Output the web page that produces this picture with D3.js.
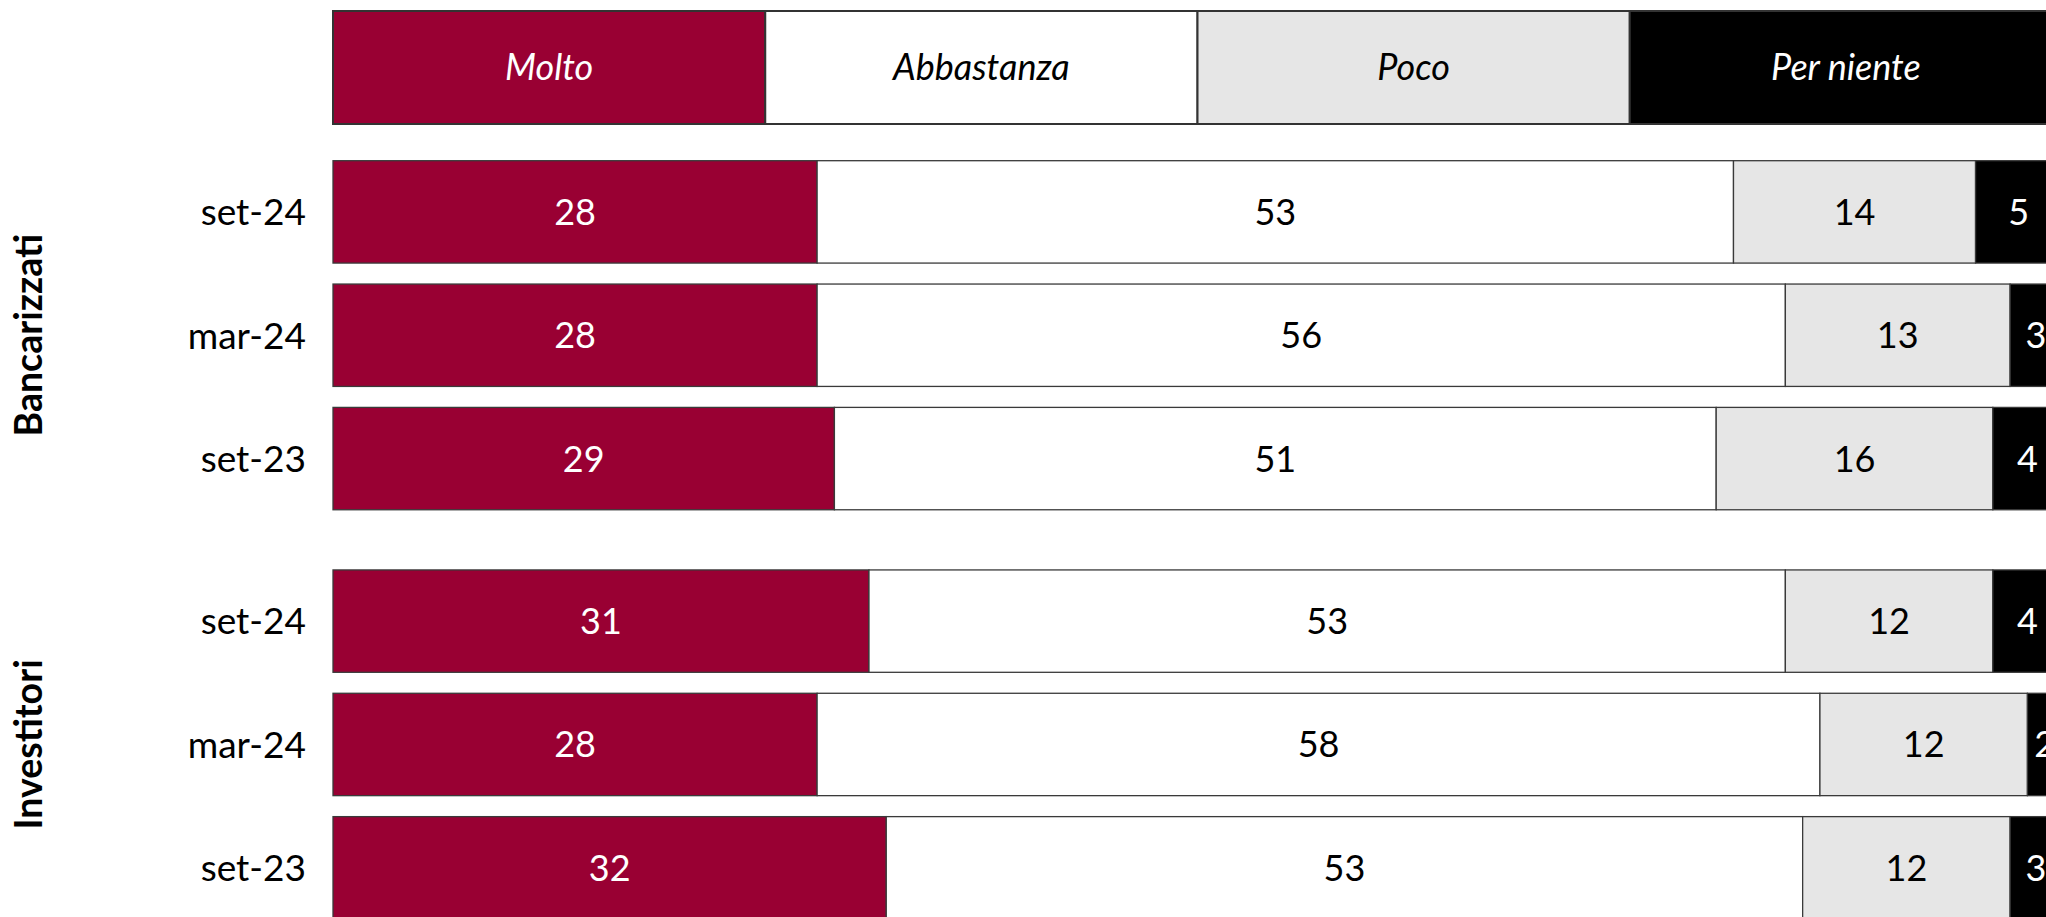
<!DOCTYPE html>
<html>
<head>
<meta charset="utf-8">
<script src="https://cdn.jsdelivr.net/npm/d3@7"></script>
<style>
  body { margin: 0; overflow: hidden; background: #fff; }
  text { font-family: Lato, "Noto Sans", sans-serif; }
</style>
</head>
<body>
<div id="container"></div>
<script>
// categories and values (percent)
const groups = ["Bancarizzati", "Investitori"];
const periods = ["set-24", "mar-24", "set-23"];
const categories = ["Molto", "Abbastanza", "Poco", "Per niente"];
const bancarizzati = [[28, 53, 14, 5], [28, 56, 13, 3], [29, 51, 16, 4]];
const investitori = [[31, 53, 12, 4], [28, 58, 12, 2], [32, 53, 12, 3]];
const legendSpans = [[0, 25], [25, 50], [50, 75], [75, 100]];

const fills = ["#990033", "#ffffff", "#e6e6e6", "#000000"];
const textColors = ["#ffffff", "#000000", "#000000", "#ffffff"];

const width = 2046;
const height = 917;

// one row object per bar
const rows = [];
[bancarizzati, investitori].forEach((g, gi) => {
    g.forEach((vals, pi) => {
        const row = { group: groups[gi], period: periods[pi] };
        categories.forEach((c, ci) => row[c] = vals[ci]);
        rows.push(row);
    });
});

const stacked = d3.stack().keys(categories)(rows);

const svg = d3.select("#container")
    .append("svg")
    .attr("width", width)
    .attr("height", height);

const x = d3.scaleLinear()
    .domain([0, 100])
    .range([333, 2062]);

const yGroup = d3.scaleBand()
    .domain(groups)
    .range([160.7, 919])
    .paddingInner(0.147);

const yRow = d3.scaleBand()
    .domain(periods)
    .range([0, yGroup.bandwidth()])
    .paddingInner(0.17);

const yPos = d => yGroup(d.data.group) + yRow(d.data.period);

// legend
const legend = svg.append("g");
legend.selectAll("rect")
    .data(categories)
    .join("rect")
    .attr("x", (d, i) => x(legendSpans[i][0]))
    .attr("y", 11)
    .attr("width", (d, i) => x(legendSpans[i][1]) - x(legendSpans[i][0]))
    .attr("height", 113)
    .attr("fill", (d, i) => fills[i])
    .attr("stroke", "#333")
    .attr("stroke-width", 2);

legend.selectAll("text")
    .data(categories)
    .join("text")
    .attr("x", (d, i) => x((legendSpans[i][0] + legendSpans[i][1]) / 2))
    .attr("y", 67.5)
    .attr("dy", "0.36em")
    .attr("text-anchor", "middle")
    .attr("font-size", "36px")
    .attr("font-style", "italic")
    .attr("fill", (d, i) => textColors[i])
    .text(d => d);

// stacked bars
const layers = svg.append("g")
    .selectAll("g")
    .data(stacked)
    .join("g")
    .attr("fill", (d, i) => fills[i]);

layers.selectAll("rect")
    .data(d => d)
    .join("rect")
    .attr("x", d => x(d[0]))
    .attr("y", yPos)
    .attr("width", d => x(d[1]) - x(d[0]))
    .attr("height", yRow.bandwidth())
    .attr("stroke", "#3a3a3a")
    .attr("stroke-width", 1.3);

layers.each(function (layer, i) {
    d3.select(this).selectAll("text")
        .data(layer)
        .join("text")
        .attr("x", d => x((d[0] + d[1]) / 2))
        .attr("y", d => yPos(d) + yRow.bandwidth() / 2)
        .attr("dy", "0.36em")
        .attr("text-anchor", "middle")
        .attr("font-size", "36px")
        .attr("fill", textColors[i])
        .text(d => d[1] - d[0]);
});

// period labels
svg.append("g")
    .selectAll("text")
    .data(rows)
    .join("text")
    .attr("x", 306)
    .attr("y", d => yGroup(d.group) + yRow(d.period) + yRow.bandwidth() / 2)
    .attr("dy", "0.36em")
    .attr("text-anchor", "end")
    .attr("font-size", "37px")
    .attr("fill", "#000")
    .text(d => d.period);

// group labels, rotated
svg.append("g")
    .selectAll("text")
    .data(groups)
    .join("text")
    .attr("transform", d => `translate(42,${yGroup(d) + yGroup.bandwidth() / 2}) rotate(-90)`)
    .attr("text-anchor", "middle")
    .attr("font-size", "37.5px")
    .attr("font-weight", "bold")
    .attr("fill", "#000")
    .text(d => d);
</script>
</body>
</html>
